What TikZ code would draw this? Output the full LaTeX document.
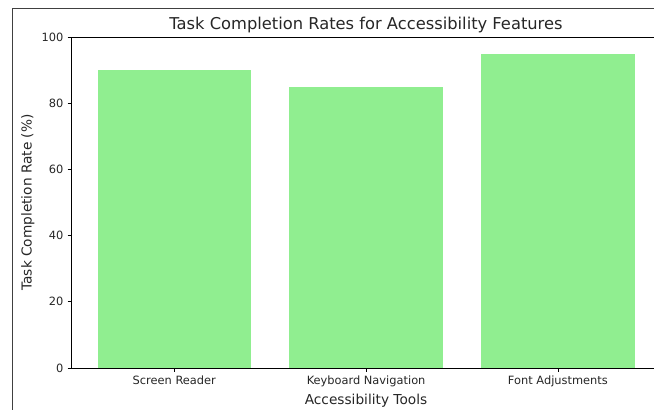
\documentclass[tikz,border=0pt]{standalone}
\usepackage{fontspec}
\setmainfont{DejaVu Sans}
\definecolor{barGreen}{HTML}{90EE90}
\definecolor{inkGray}{HTML}{262626}
\begin{document}
\begin{tikzpicture}[x=1pt,y=-1pt,
  bar/.style={fill=barGreen, draw=none},
  spine/.style={line width=0.8pt, black},
  tickmark/.style={line width=0.8pt, black},
  ticklabel/.style={font=\fontsize{11.4}{13}\selectfont, text=inkGray, inner sep=0pt},
  axislabel/.style={font=\fontsize{13.7}{16}\selectfont, text=inkGray, inner sep=0pt},
  titlelabel/.style={font=\fontsize{16.3}{19}\selectfont, text=inkGray, inner sep=0pt}]
\useasboundingbox (0,0) rectangle (654,410);
% figure frame (only its left and top edges fall inside the page)
\draw[line width=0.9pt, black!75] (12.5,410) -- (12.5,8.5) -- (654,8.5);

% bars: centre x, value
\foreach \nm/\cx/\val in {sr/174.3/90, kn/366.1/85, fa/557.9/95}{
  \fill[bar] (\cx-76.7,368) rectangle (\cx+76.7,{368-3.31*\val});
  \coordinate (\nm-base) at (\cx,368);
}

% spines
\draw[spine] (71,368) -- (71,37) -- (654,37);
\draw[spine] (71,368) -- (654,368);

% y ticks and labels
\foreach \v in {0,20,40,60,80,100}{
  \draw[tickmark] (67.5,{368-3.31*\v}) -- (71,{368-3.31*\v});
  \node[ticklabel, anchor=east] (yt\v) at (63.5,{368-3.31*\v}) {\v};
}

% x ticks and labels
\foreach \nm/\txt in {sr/Screen Reader, kn/Keyboard Navigation, fa/Font Adjustments}{
  \draw[tickmark] (\nm-base) -- ++(0,3.5);
  \node[ticklabel, anchor=north] (\nm-lab) at ([yshift=-7.5pt]\nm-base) {\txt};
}

% titles
\node[titlelabel, anchor=base] (title) at (366,29) {Task Completion Rates for Accessibility Features};
\node[axislabel, anchor=base] (xlab) at (366,404) {Accessibility Tools};
\node[axislabel, anchor=base, rotate=90] (ylab) at (31.5,202.5) {Task Completion Rate (\%)};
\end{tikzpicture}
\end{document}
